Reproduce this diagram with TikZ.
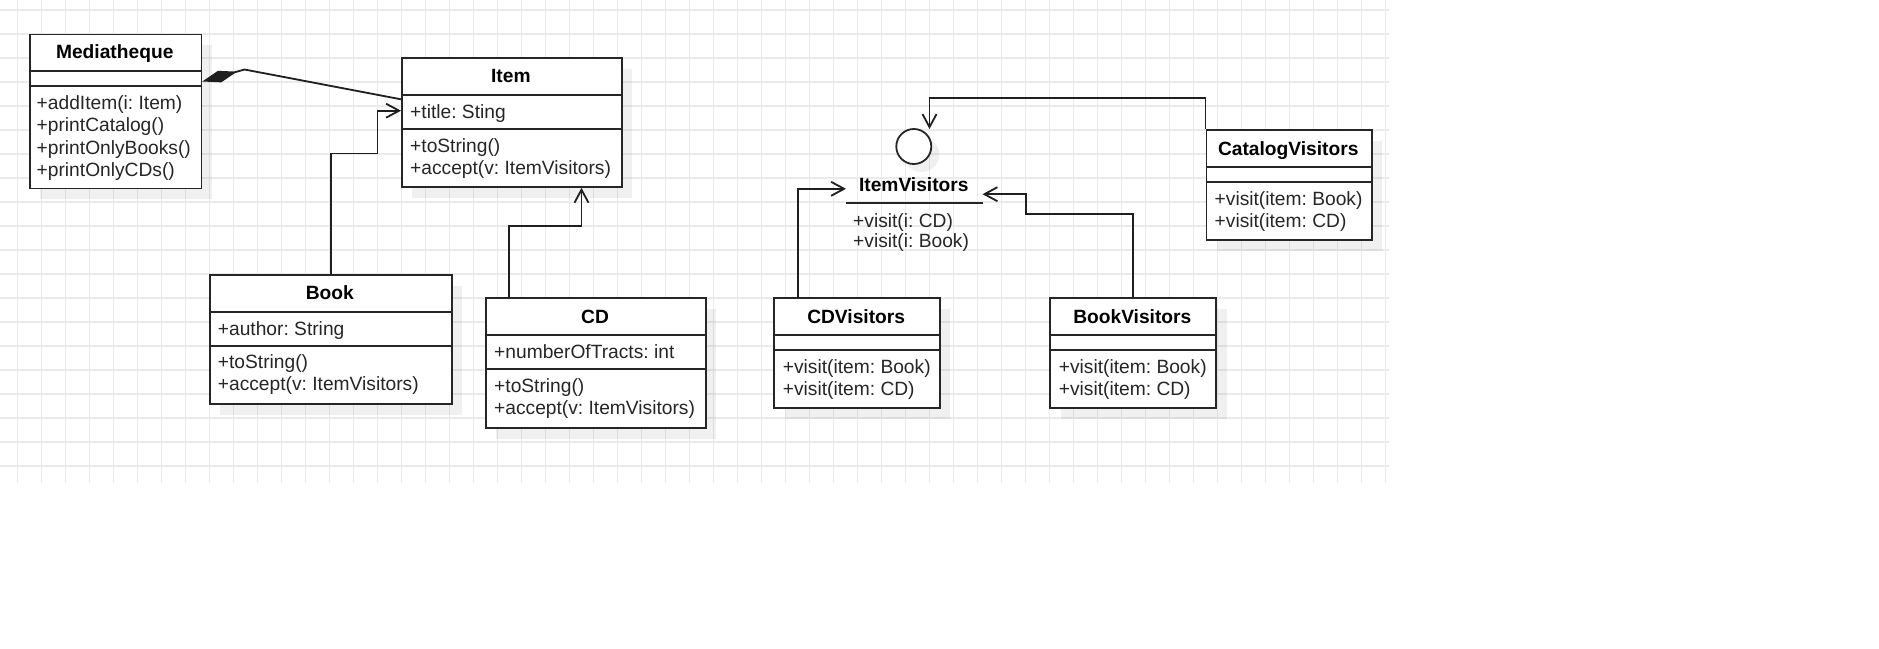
\documentclass[tikz,border=0pt]{standalone}
\usepackage{fontspec}
\setmainfont{Liberation Sans}
\usetikzlibrary{arrows.meta,shadows}
\frenchspacing
\newcommand\umlfs{\fontsize{19.2}{23}\selectfont}
\tikzset{
  box/.style={draw=black!85, line width=1.8pt, fill=white, anchor=north west, inner sep=0pt,
    drop shadow={shadow xshift=10.5pt, shadow yshift=-11pt, fill=black, opacity=0.06}},
  sepline/.style={draw=black!85, line width=1.8pt},
  txt/.style={anchor=base west, inner sep=0pt, font=\umlfs, text=black!85},
  ttl/.style={anchor=base, inner sep=0pt, font=\umlfs\bfseries, text=black},
  link/.style={draw=black!88, line width=1.8pt},
  dep/.style={link, -{Straight Barb[length=13pt,width=14pt]}},
  comp/.style={link, {Diamond[length=36pt,width=12pt]}-},
  gridline/.style={draw=black!8, line width=1.3pt},
}
\begin{document}
\begin{tikzpicture}[x=1pt,y=-1pt]
\fill[white] (0,0) rectangle (1879,648);
\useasboundingbox (0,0) rectangle (1879,648);
% grid
\foreach \i in {0,...,57} \draw[gridline] ({17.7+24*\i},0) -- ({17.7+24*\i},483);
\foreach \j in {0,...,19} \draw[gridline] (0,{10+24*\j}) -- (1389,{10+24*\j});

% Mediatheque
\node[box, minimum width=171.5pt, minimum height=154pt] (media) at (29,33.5) {};
\draw[sepline] (media.west |- 0,70.7) -- (media.east |- 0,70.7);
\draw[sepline] (media.west |- 0,85.7) -- (media.east |- 0,85.7);
\node[ttl] (mediaT) at (114.75,58.5) {Mediatheque};
\node[txt] (mediaM1) at (36.5,109.6) {+addItem(i: Item)};
\node[txt] (mediaM2) at (36.5,131.9) {+printCatalog()};
\node[txt] (mediaM3) at (36.5,154.2) {+printOnlyBooks()};
\node[txt] (mediaM4) at (36.5,176.5) {+printOnlyCDs()};

% Item
\node[box, minimum width=219.7pt, minimum height=128.6pt] (item) at (401,57.4) {};
\draw[sepline] (item.west |- 0,95) -- (item.east |- 0,95);
\draw[sepline] (item.west |- 0,129.3) -- (item.east |- 0,129.3);
\node[ttl] (itemT) at (510.85,82.7) {Item};
\node[txt] (itemA) at (410,118.2) {+title: Sting};
\node[txt] (itemM1) at (410,152.5) {+toString()};
\node[txt] (itemM2) at (410,174.8) {+accept(v: ItemVisitors)};

% Book
\node[box, minimum width=241.9pt, minimum height=128.7pt] (book) at (208.8,274) {};
\draw[sepline] (book.west |- 0,311.7) -- (book.east |- 0,311.7);
\draw[sepline] (book.west |- 0,346) -- (book.east |- 0,346);
\node[ttl] (bookT) at (329.75,299.2) {Book};
\node[txt] (bookA) at (217.7,335) {+author: String};
\node[txt] (bookM1) at (217.7,368.2) {+toString()};
\node[txt] (bookM2) at (217.7,390.5) {+accept(v: ItemVisitors)};

% CD
\node[box, minimum width=220pt, minimum height=129.4pt] (cd) at (485,297.3) {};
\draw[sepline] (cd.west |- 0,335) -- (cd.east |- 0,335);
\draw[sepline] (cd.west |- 0,369.3) -- (cd.east |- 0,369.3);
\node[ttl] (cdT) at (595,323.2) {CD};
\node[txt] (cdA) at (494,358.2) {+numberOfTracts: int};
\node[txt] (cdM1) at (494,392.5) {+toString()};
\node[txt] (cdM2) at (494,414.8) {+accept(v: ItemVisitors)};

% CDVisitors
\node[box, minimum width=165.7pt, minimum height=110pt] (cdv) at (773.3,297.3) {};
\draw[sepline] (cdv.west |- 0,335) -- (cdv.east |- 0,335);
\draw[sepline] (cdv.west |- 0,350) -- (cdv.east |- 0,350);
\node[ttl] (cdvT) at (856.15,323.2) {CDVisitors};
\node[txt] (cdvM1) at (782.7,373.2) {+visit(item: Book)};
\node[txt] (cdvM2) at (782.7,395) {+visit(item: CD)};

% BookVisitors
\node[box, minimum width=166pt, minimum height=110pt] (bv) at (1049.3,297.3) {};
\draw[sepline] (bv.west |- 0,335) -- (bv.east |- 0,335);
\draw[sepline] (bv.west |- 0,350) -- (bv.east |- 0,350);
\node[ttl] (bvT) at (1132.3,323.2) {BookVisitors};
\node[txt] (bvM1) at (1058.7,373.2) {+visit(item: Book)};
\node[txt] (bvM2) at (1058.7,395) {+visit(item: CD)};

% CatalogVisitors
\node[box, minimum width=165.5pt, minimum height=110pt] (cat) at (1205.5,129.4) {};
\draw[sepline] (cat.west |- 0,167.1) -- (cat.east |- 0,167.1);
\draw[sepline] (cat.west |- 0,182.1) -- (cat.east |- 0,182.1);
\node[ttl] (catT) at (1288.25,155.3) {CatalogVisitors};
\node[txt] (catM1) at (1214.5,205.3) {+visit(item: Book)};
\node[txt] (catM2) at (1214.5,227.1) {+visit(item: CD)};

% ItemVisitors interface
\node[circle, draw=black!85, line width=1.8pt, fill=white, minimum size=35pt, inner sep=0pt,
  drop shadow={shadow xshift=8pt, shadow yshift=-8pt, fill=black, opacity=0.06}] (ivc) at (913.8,146.5) {};
\node[ttl] (ivT) at (913.8,191.5) {ItemVisitors};
\coordinate (ulA) at (846,202.6);
\coordinate (ulB) at (982.5,202.6);
\draw[sepline] (ulA) -- (ulB);
\node[txt] (ivM1) at (853,227) {+visit(i: CD)};
\node[txt] (ivM2) at (853,247.8) {+visit(i: Book)};

% connectors
\coordinate (mdA) at (0,81.5);
\coordinate (mdB) at (244.5,69.5);
\coordinate (mdC) at (0,99.3);
\draw[comp] (media.east |- mdA) -- (mdB) -- (item.west |- mdC);

\coordinate (bkA) at (377.5,153.4);
\coordinate (bkB) at (377.5,110.7);
\draw[dep] (book.north) |- (bkA) |- (bkB -| item.west);

\coordinate (cdK) at (581.5,225.8);
\draw[dep] ([xshift=24.3pt]cd.north west) |- (cdK) -- (cdK |- item.south);

\coordinate (ivL) at (846,188.8);
\draw[dep] ([xshift=24.3pt]cdv.north west) |- (ivL);

\coordinate (bvK) at (1025.8,213.8);
\coordinate (ivR) at (982.5,194.2);
\draw[dep] (bv.north) |- (bvK) |- (ivR);

\coordinate (ctK) at (929.5,98.3);
\coordinate (ivTop) at (929.5,129);
\draw[dep] (cat.north west) |- (ctK) -- (ivTop);
\end{tikzpicture}
\end{document}
